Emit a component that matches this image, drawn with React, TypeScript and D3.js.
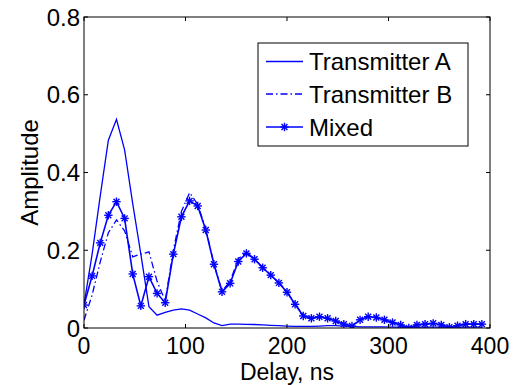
import React from "react";
import * as d3 from "d3";

const delays = d3.range(0, 400, 8); // 0..392 ns, 8 ns step (sample grid)

const transmitterA = [
  0.06, 0.19, 0.34, 0.483, 0.537, 0.458, 0.32, 0.19, 0.055, 0.033,
  0.04, 0.046, 0.049, 0.046, 0.036, 0.026, 0.013, 0.006, 0.01, 0.01,
  0.0095, 0.009, 0.008, 0.007, 0.006, 0.005, 0.004, 0.004, 0.004, 0.005,
  0.006, 0.006, 0.005, 0.004, 0.003, 0.003, 0.003, 0.003, 0.002, 0.002,
  0.002, 0.002, 0.002, 0.002, 0.002, 0.002, 0.002, 0.002, 0.002, 0.002,
];

const transmitterB = [
  0.02, 0.085, 0.17, 0.245, 0.278, 0.25, 0.183, 0.19, 0.196, 0.12,
  0.07, 0.2, 0.3, 0.348, 0.318, 0.255, 0.165, 0.095, 0.12, 0.178,
  0.195, 0.178, 0.156, 0.137, 0.117, 0.093, 0.062, 0.032, 0.026, 0.029,
  0.025, 0.018, 0.01, 0.005, 0.021, 0.029, 0.027, 0.021, 0.014, 0.008,
  0.0, 0.008, 0.01, 0.012, 0.008, 0.002, 0.006, 0.01, 0.01, 0.01,
];

const mixed = [
  0.059, 0.134, 0.219, 0.29, 0.325, 0.282, 0.139, 0.057, 0.132, 0.089,
  0.065, 0.19, 0.286, 0.327, 0.314, 0.252, 0.164, 0.093, 0.115, 0.171,
  0.192, 0.177, 0.155, 0.136, 0.116, 0.092, 0.061, 0.031, 0.025, 0.029,
  0.025, 0.018, 0.01, 0.005, 0.021, 0.029, 0.027, 0.021, 0.014, 0.008,
  0.0, 0.008, 0.01, 0.012, 0.008, 0.002, 0.006, 0.01, 0.01, 0.01,
];

const xTicks = [0, 100, 200, 300, 400];
const yTicks = [0, 0.2, 0.4, 0.6, 0.8];
const legendLabels = ["Transmitter A", "Transmitter B", "Mixed"];

const W = 515;
const H = 385;
const M = { left: 84, right: 490, top: 17, bottom: 328 };
const BLUE = "#0000ff";
const FONT = "'Liberation Sans', Arial, Helvetica, sans-serif";
const FS = 24;
const FS_X = 23;

function Star({ x, y, r = 4.2 }: { x: number; y: number; r?: number }) {
  const d = r * 0.7071;
  return (
    <g stroke={BLUE} strokeWidth={1.4}>
      <line x1={x - r} y1={y} x2={x + r} y2={y} />
      <line x1={x} y1={y - r} x2={x} y2={y + r} />
      <line x1={x - d} y1={y - d} x2={x + d} y2={y + d} />
      <line x1={x - d} y1={y + d} x2={x + d} y2={y - d} />
    </g>
  );
}

export default function App() {
  const x = d3.scaleLinear().domain([0, 400]).range([M.left, M.right]);
  const y = d3.scaleLinear().domain([0, 0.8]).range([M.bottom, M.top]);
  const line = d3
    .line<number>()
    .x((_, i) => x(delays[i]))
    .y((v) => y(v));

  const tickLen = 4;
  const legend = { x: 258, y: 43, w: 210, h: 103 };
  const rows = [61.5, 94, 127];

  return (
    <svg
      width={W}
      height={H}
      style={{ position: "absolute", left: 0, top: 0, background: "#fff" }}
      fontFamily={FONT}
    >
      <rect x={0} y={0} width={W} height={H} fill="#fff" />
      <clipPath id="plotclip">
        <rect x={M.left} y={M.top} width={M.right - M.left} height={M.bottom - M.top} />
      </clipPath>

      <g clipPath="url(#plotclip)" fill="none">
        <path d={line(transmitterA) || ""} stroke={BLUE} strokeWidth={1.3} />
        <path
          d={line(transmitterB) || ""}
          stroke={BLUE}
          strokeWidth={1.3}
          strokeDasharray="7,3,1.5,3"
        />
        <path d={line(mixed) || ""} stroke={BLUE} strokeWidth={1.6} />
        {mixed.map((v, i) => (
          <Star key={i} x={x(delays[i])} y={y(v)} />
        ))}
      </g>

      {/* axes box */}
      <rect
        x={M.left}
        y={M.top}
        width={M.right - M.left}
        height={M.bottom - M.top}
        fill="none"
        stroke="#000"
        strokeWidth={1}
      />

      {xTicks.map((t) => (
        <g key={"x" + t}>
          <line x1={x(t)} x2={x(t)} y1={M.bottom} y2={M.bottom - tickLen} stroke="#000" />
          <line x1={x(t)} x2={x(t)} y1={M.top} y2={M.top + tickLen} stroke="#000" />
          <text x={x(t)} y={353.5} textAnchor="middle" fontSize={FS_X} fill="#000">
            {t}
          </text>
        </g>
      ))}
      {yTicks.map((t) => (
        <g key={"y" + t}>
          <line x1={M.left} x2={M.left + tickLen} y1={y(t)} y2={y(t)} stroke="#000" />
          <line x1={M.right} x2={M.right - tickLen} y1={y(t)} y2={y(t)} stroke="#000" />
          <text x={80} y={y(t) + 8.5} textAnchor="end" fontSize={FS} fill="#000">
            {t === 0 ? "0" : t.toFixed(1)}
          </text>
        </g>
      ))}

      <text x={(M.left + M.right) / 2} y={379.5} textAnchor="middle" fontSize={FS_X} fill="#000">
        Delay, ns
      </text>
      <text
        transform={`translate(38, ${(M.top + M.bottom) / 2}) rotate(-90)`}
        textAnchor="middle"
        fontSize={FS}
        fill="#000"
      >
        Amplitude
      </text>

      {/* legend */}
      <rect
        x={legend.x}
        y={legend.y}
        width={legend.w}
        height={legend.h}
        fill="#fff"
        stroke="#000"
        strokeWidth={1}
      />
      {legendLabels.map((lab, i) => (
        <g key={lab}>
          <line
            x1={266}
            x2={303}
            y1={rows[i]}
            y2={rows[i]}
            stroke={BLUE}
            strokeWidth={i === 2 ? 1.6 : 1.3}
            strokeDasharray={i === 1 ? "7,3,1.5,3" : undefined}
          />
          {i === 2 && <Star x={284.5} y={rows[i]} />}
          <text x={309} y={rows[i] + 8.5} fontSize={FS} fill="#000">
            {lab}
          </text>
        </g>
      ))}
    </svg>
  );
}
